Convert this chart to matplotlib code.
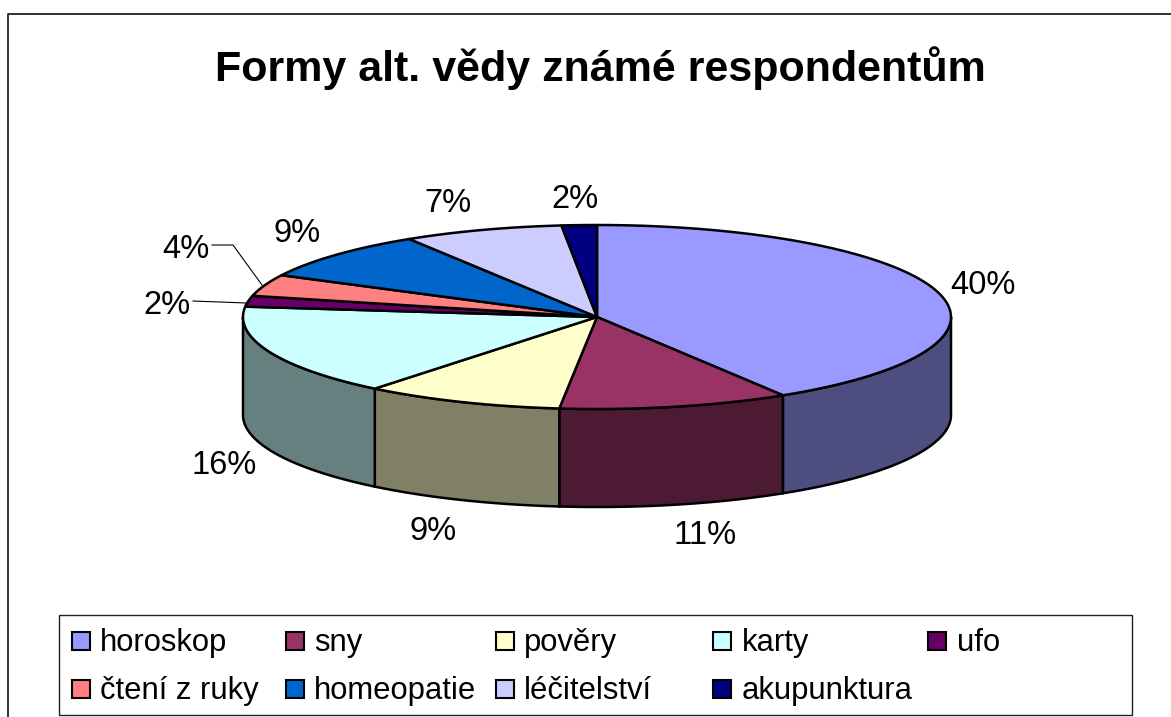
#!/usr/bin/env python3
import numpy as np
import matplotlib
matplotlib.use("Agg")
import matplotlib.pyplot as plt
from matplotlib.patches import Polygon, Rectangle

plt.rcParams["font.family"] = ["Liberation Sans", "DejaVu Sans"]

# ── data ──────────────────────────────────────────────────────────────────────
categories = ["horoskop", "sny", "pověry", "karty", "ufo",
              "čtení z ruky", "homeopatie", "léčitelství", "akupunktura"]
shares = [41.2, 10.5, 9.1, 16.0, 1.9, 3.8, 8.6, 7.3, 1.6]
pct_labels = ["40%", "11%", "9%", "16%", "2%", "4%", "9%", "7%", "2%"]
top_colors = ["#9999FF", "#993366", "#FFFFCC", "#CCFFFF", "#660066",
              "#FF8080", "#0066CC", "#CCCCFF", "#000080"]
title = "Formy alt. vědy známé respondentům"

# ── layout (pixels) ───────────────────────────────────────────────────────────
W, H = 1171, 717
CX, CY, RX, RY, DEPTH = 597, 317, 354, 92, 98
label_pos = [(983, 285), (705, 535), (433, 531), (224, 465), (167, 306),
             (186, 249), (297, 233), (448, 204), (575, 200)]
legend_cols = [81, 295, 505, 722, 937]
legend_text = [100, 314, 524, 742, 957]
legend_rows = [641, 689]


def rim(t):
    """t in degrees clockwise from 12 o'clock, pixel coords of the top rim"""
    r = np.radians(t)
    return CX + RX * np.sin(r), CY - RY * np.cos(r)


def darker(col):
    rgb = np.array(matplotlib.colors.to_rgb(col))
    return tuple(rgb * 0.5)


fig = plt.figure(figsize=(W / 100, H / 100), dpi=100, facecolor="white")
ax = fig.add_axes([0, 0, 1, 1])
ax.set_xlim(0, W)
ax.set_ylim(H, 0)
ax.axis("off")

# outer chart border, cut by the right and bottom image edge
ax.plot([7.5, 7.5, W], [H, 13.5, 13.5], color="#222222", lw=1.3, zorder=1)

edges = np.concatenate([[0], np.cumsum(shares)]) / np.sum(shares) * 360

# ── side walls (front half only) ──────────────────────────────────────────────
for i, col in enumerate(top_colors):
    a, b = max(edges[i], 90), min(edges[i + 1], 270)
    if b <= a:
        continue
    ts = np.linspace(a, b, 80)
    x, y = rim(ts)
    pts = np.r_[np.c_[x, y], np.c_[x[::-1], y[::-1] + DEPTH]]
    ax.add_patch(Polygon(pts, closed=True, fc=darker(col), ec="black",
                         lw=1.8, zorder=2))

# ── top face ──────────────────────────────────────────────────────────────────
for i, col in enumerate(top_colors):
    ts = np.linspace(edges[i], edges[i + 1], 80)
    x, y = rim(ts)
    pts = np.r_[[[CX, CY]], np.c_[x, y]]
    ax.add_patch(Polygon(pts, closed=True, fc=col, ec="black", lw=1.8,
                         joinstyle="round", zorder=3))

# ── percent labels and leader lines ───────────────────────────────────────────
for txt, (px, py) in zip(pct_labels, label_pos):
    ax.text(px, py, txt, ha="center", va="center", fontsize=23.5, color="black",
            zorder=5)
ax.plot([212, 233, 262], [245, 245, 285], color="black", lw=0.8, zorder=4)
ax.plot([193, 246], [301, 303], color="black", lw=0.8, zorder=4)

# ── title ─────────────────────────────────────────────────────────────────────
ax.text(600, 68, title, ha="center", va="center", fontsize=31,
        fontweight="bold", color="black", zorder=5)

# ── legend ────────────────────────────────────────────────────────────────────
ax.add_patch(Rectangle((59, 615), 1073, 100, fc="white", ec="#222222", lw=1.0,
                       zorder=4))
for i, (name, col) in enumerate(zip(categories, top_colors)):
    col_idx = i if i < 5 else i - 5
    ly = legend_rows[0] if i < 5 else legend_rows[1]
    ax.add_patch(Rectangle((legend_cols[col_idx] - 9, ly - 9), 18, 18, fc=col,
                           ec="black", lw=1.5, zorder=5))
    ax.text(legend_text[col_idx], ly + 2, name, ha="left", va="center",
            fontsize=22.3, zorder=5)

fig.savefig("out.png", dpi=100, facecolor="white")
